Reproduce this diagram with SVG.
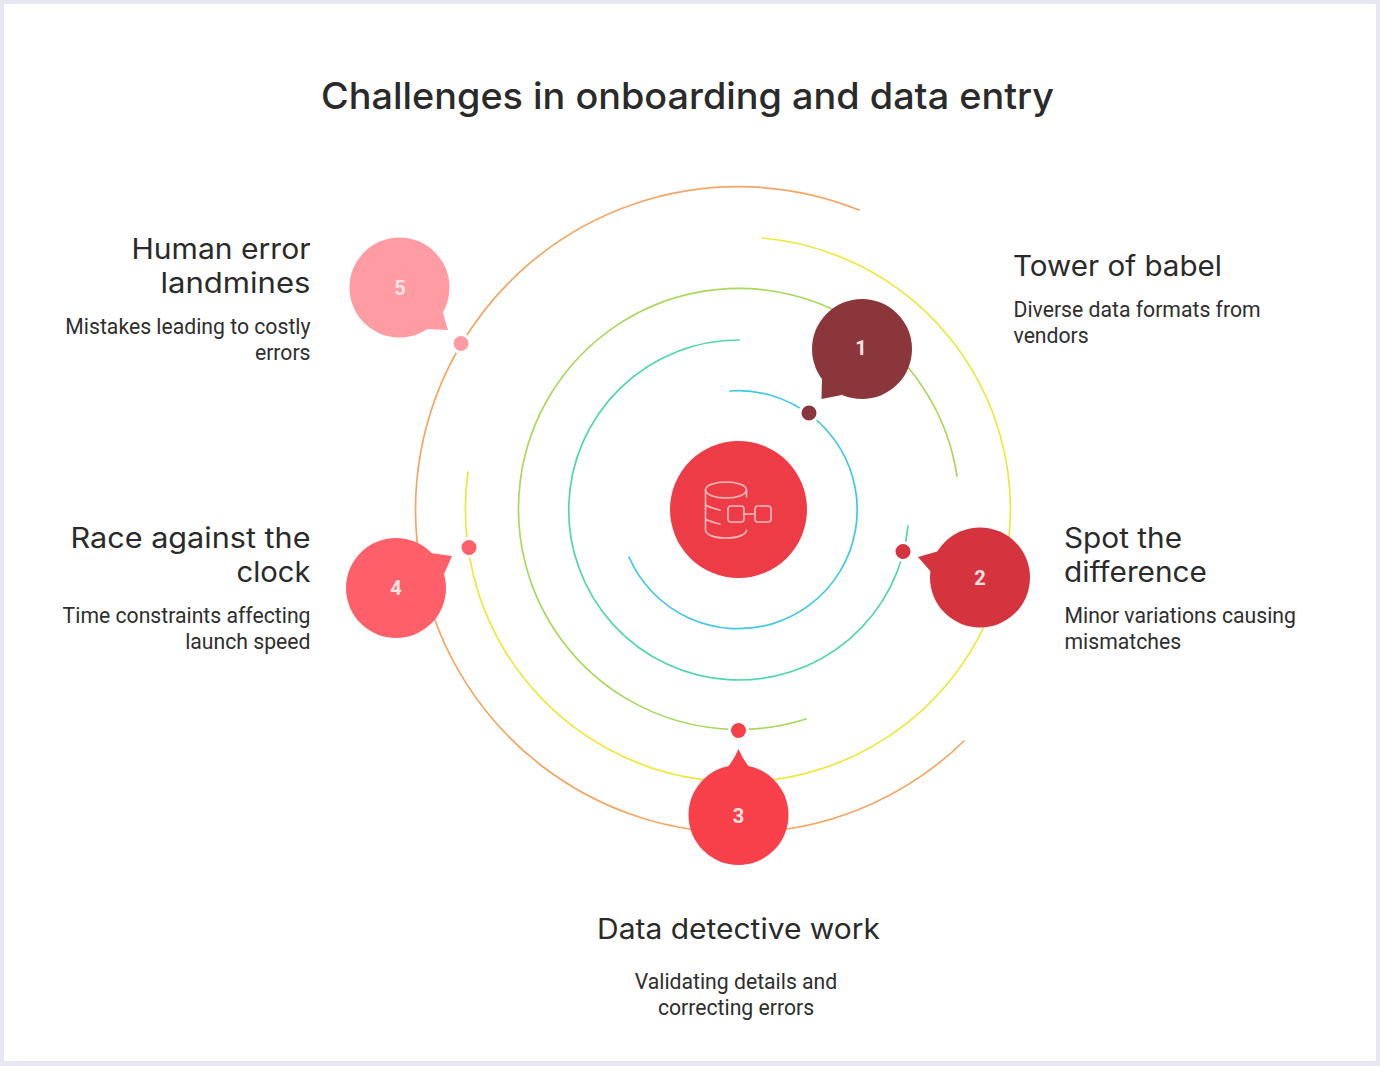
<svg xmlns="http://www.w3.org/2000/svg" width="1380" height="1066" viewBox="0 0 1380 1066">
<style>
.h{font-family:"Inter","Open Sans","Liberation Sans",sans-serif;font-size:28px;fill:#2a2a2a}
.t{font-family:"Inter","Open Sans","Liberation Sans",sans-serif;font-size:37px;font-weight:500;fill:#2a2a2a}
.b{font-family:"Roboto","Liberation Sans",sans-serif;font-size:21.2px;fill:#2e2e2e}
.n{font-family:"Roboto","Liberation Sans",sans-serif;font-size:20px;font-weight:700;fill:#fbe4e4;text-anchor:middle}
.e{text-anchor:end}.m{text-anchor:middle}
.a{fill:none;stroke-width:1.7;stroke-linecap:round}
.d{stroke:#fff;stroke-width:3}
.i{fill:none;stroke:#f9bcc0;stroke-width:1.6;stroke-linecap:round;stroke-linejoin:round}
</style>
<rect width="1380" height="1066" fill="#e7e7f3"/>
<rect x="4" y="4" width="1372" height="1057" fill="#fff"/>
<text class="t" x="321" y="109" textLength="733" lengthAdjust="spacingAndGlyphs">Challenges in onboarding and data entry</text>
<g id="connectors">
<path class="a" stroke="#3fc9e4" d="M730 391A119 119 0 1 1 629 557"/>
<path class="a" stroke="#4fd6b0" d="M739 340A170 170 0 1 0 908 526"/>
<path class="a" stroke="#a9d85c" d="M957 476A220.5 220.5 0 1 0 806 719"/>
<path class="a" stroke="#efe83c" d="M762 238A272.500 272.500 0 1 1 468 472"/>
<path class="a" stroke="#f4a765" d="M859 210A323 323 0 1 0 964 741"/>
</g>
<g id="center">
<circle cx="738.500" cy="509.500" r="68.500" fill="#ee3c47"/>
<ellipse class="i" cx="726" cy="490" rx="20.500" ry="8"/>
<path class="i" d="M705.500 490V530C705.500 535 715 538 726 538S746.500 535 746.500 530M746.500 490V497M705.500 505C709 507 715 509 720 510M705.500 519C709 521 715 523 720 524"/>
<rect class="i" x="728" y="506" width="16" height="16" rx="3"/>
<rect class="i" x="755" y="506" width="16" height="16" rx="3"/>
<path class="i" d="M744 514H755"/>
</g>
<g id="node-1" fill="#8a363a">
<circle cx="862" cy="349" r="50"/>
<path d="M822 378L821.500 399L842 395Z"/>
<circle class="d" cx="809" cy="413" r="9"/>
<text class="n" x="861" y="354.700">1</text>
</g>
<g id="node-2" fill="#d5333e">
<circle cx="980" cy="577.500" r="50"/>
<path d="M939 551L918 557L932 573Z"/>
<circle class="d" cx="903" cy="551.500" r="9"/>
<text class="n" x="980" y="584.700">2</text>
</g>
<g id="node-3" fill="#f8404b">
<circle cx="738.500" cy="815" r="50"/>
<path d="M725 770Q733 762 738.500 749Q744 762 752 770Z"/>
<circle class="d" cx="738.500" cy="730.500" r="9"/>
<text class="n" x="738.500" y="822.700">3</text>
</g>
<g id="node-4" fill="#ff5f68">
<circle cx="396" cy="588" r="50"/>
<path d="M430 553L452 556L444 574Z"/>
<circle class="d" cx="469" cy="547.500" r="9"/>
<text class="n" x="396" y="594.700">4</text>
</g>
<g id="node-5" fill="#ff9ba3">
<circle cx="399.500" cy="287.500" r="50"/>
<path d="M442 310L448 330L426 329Z"/>
<circle class="d" cx="461" cy="343.500" r="9"/>
<text class="n" x="400" y="294.700">5</text>
</g>
<g id="label-1">
<text class="h" x="1013" y="276" textLength="209" lengthAdjust="spacingAndGlyphs">Tower of babel</text>
<text class="b" x="1013.500" y="316.700">Diverse data formats from</text>
<text class="b" x="1013.500" y="342.700">vendors</text>
</g>
<g id="label-2">
<text class="h" x="1064" y="548" textLength="118" lengthAdjust="spacingAndGlyphs">Spot the</text>
<text class="h" x="1064" y="582" textLength="143" lengthAdjust="spacingAndGlyphs">difference</text>
<text class="b" x="1064.500" y="622.700">Minor variations causing</text>
<text class="b" x="1064.500" y="648.700">mismatches</text>
</g>
<g id="label-3">
<text class="h m" x="738.500" y="939" textLength="283" lengthAdjust="spacingAndGlyphs">Data detective work</text>
<text class="b m" x="736" y="988.700">Validating details and</text>
<text class="b m" x="736" y="1014.700">correcting errors</text>
</g>
<g id="label-4">
<text class="h e" x="310.500" y="548" textLength="240" lengthAdjust="spacingAndGlyphs">Race against the</text>
<text class="h e" x="310.500" y="582" textLength="74" lengthAdjust="spacingAndGlyphs">clock</text>
<text class="b e" x="310.500" y="622.700">Time constraints affecting</text>
<text class="b e" x="310.500" y="648.700">launch speed</text>
</g>
<g id="label-5">
<text class="h e" x="310.500" y="259" textLength="179" lengthAdjust="spacingAndGlyphs">Human error</text>
<text class="h e" x="310.500" y="293" textLength="150" lengthAdjust="spacingAndGlyphs">landmines</text>
<text class="b e" x="310.500" y="333.700">Mistakes leading to costly</text>
<text class="b e" x="310.500" y="359.700">errors</text>
</g>
</svg>
